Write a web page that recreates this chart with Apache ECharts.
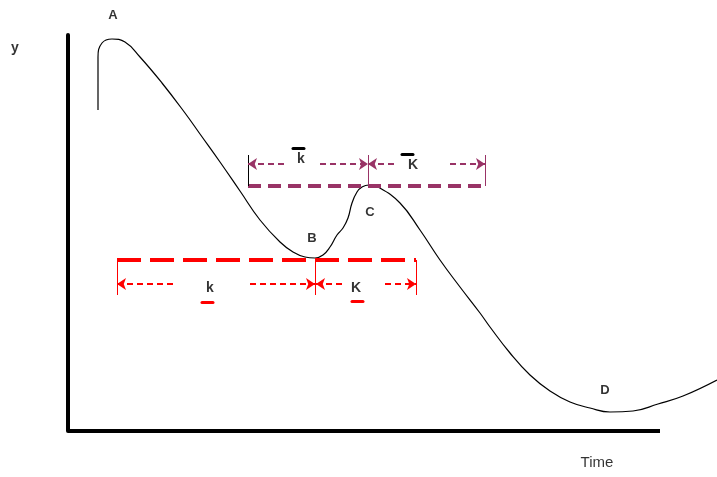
<!DOCTYPE html>
<html>
<head>
<meta charset="utf-8">
<script src="https://cdn.jsdelivr.net/npm/echarts@6/dist/echarts.min.js"></script>
<style>
  html, body { margin: 0; padding: 0; background: #fff; }
  #chart { width: 717px; height: 477px; }
</style>
</head>
<body>
<div id="chart"></div>
<script>
// curve y(Time) (axis units: 0..592 along the drawn Time axis, 0..396 up)
const curveX = [30, 30, 30, 34, 44, 57, 72, 94, 117, 132, 152, 172, 192, 212, 225, 237, 247, 255, 262, 269,
  275, 280, 284, 289, 294, 301, 310, 332, 352, 372, 392, 412, 422, 442, 462, 482, 502, 522, 542,
  565, 590, 615, 649];
const curveY = [321, 351, 374, 388, 392, 389, 374, 348, 318, 297, 269, 240, 211, 189, 179, 174, 173, 176, 184, 196,
  203, 213, 228, 239, 244, 246, 244, 228, 201, 171, 144, 118, 104, 78, 56, 40, 29, 23, 19,
  20, 27, 35, 51];

// length of the drawn Time axis; the curve runs on past it
const timeAxisEnd = 592;

// level lines through B (red) and C (purple)
const redLevel = {y: 171, from: 49, to: 348};
const purpleLevel = {y: 245, from: 180, to: 417};

// vertical ticks: [x, yBottom, yTop]
const redTicks = [[49, 136, 171], [247, 136, 171], [348, 136, 171]];
const purpleTicks = [[180, 245, 276], [300, 245, 276], [417, 245, 276]];

// arrow segments: [xFrom, xTo, y, arrowEnd]  (arrowEnd: 'start' | 'end')
const redArrows = [[49, 107, 147, 'start'], [182, 247, 147, 'end'], [248, 274, 147, 'start'], [317, 348, 147, 'end']];
const purpleArrows = [[180, 217, 267, 'start'], [252, 300, 267, 'end'], [300, 330, 267, 'start'], [382, 417, 267, 'end']];

// bars over / under k, K: [x1, x2, y]
const blackBars = [[225, 236, 283], [334, 345, 277]];
const redBars = [[134, 145, 129], [284, 295, 130]];

// point labels: [text, x, y]
const pointLabels = [['A', 45, 416], ['B', 244, 193], ['C', 302, 219], ['D', 537, 41]];
const purpleLabels = [['k', 233, 272], ['K', 345, 266]];
const redLabels = [['k', 142, 143], ['K', 288, 143]];
const axisTitles = [['y', -53, 383, 'bold', 14], ['Time', 529, -32, 'normal', 15]];

const RED = '#ff0000';
const PLUM = '#993366';
const font = "'Liberation Sans', Arial, sans-serif";

function seg(x1, y1, x2, y2, s1, s2) {
  return [{coord: [x1, y1], symbol: s1 || 'none'}, {coord: [x2, y2], symbol: s2 || 'none'}];
}

function markerSeries(name, lines, lineStyle) {
  return {
    name,
    type: 'line',
    data: [],
    silent: true,
    clip: false,
    markLine: {
      silent: true,
      animation: false,
      symbolSize: 9,
      label: {show: false},
      emphasis: {disabled: true},
      lineStyle,
      data: lines,
    },
  };
}

function textSeries(name, items, color, weight, size) {
  return {
    name,
    type: 'scatter',
    symbolSize: 0,
    silent: true,
    clip: false,
    data: items.map(d => ({value: [d[1], d[2]], name: d[0]})),
    label: {
      show: true,
      position: [0, 0],
      align: 'center',
      verticalAlign: 'middle',
      formatter: p => p.name,
      color,
      fontFamily: font,
      fontWeight: weight,
      fontSize: size,
    },
  };
}

const chart = echarts.init(document.getElementById('chart'));

const series = [
  markerSeries('timeAxis', [seg(0, 0, timeAxisEnd, 0)],
      {color: '#000', width: 4, type: 'solid', opacity: 1}),
  {
    name: 'curve',
    type: 'line',
    data: curveX.map((x, i) => [x, curveY[i]]),
    smooth: 0.45,
    showSymbol: false,
    clip: false,
    silent: true,
    lineStyle: {color: '#000', width: 1.2},
  },
  markerSeries('redLevel', [seg(redLevel.from, redLevel.y, redLevel.to, redLevel.y)],
      {color: RED, width: 4, type: [24, 9], opacity: 1}),
  markerSeries('purpleLevel', [seg(purpleLevel.from, purpleLevel.y, purpleLevel.to, purpleLevel.y)],
      {color: PLUM, width: 4, type: [13, 7], opacity: 1}),
  markerSeries('redTicks', redTicks.map(t => seg(t[0], t[1], t[0], t[2])),
      {color: RED, width: 1, type: 'solid', opacity: 1}),
  markerSeries('purpleTicks', purpleTicks.map((t, i) => {
    const s = seg(t[0], t[1], t[0], t[2]);
    if (i === 0) s[0].lineStyle = {color: '#000'};
    return s;
  }), {color: PLUM, width: 1, type: 'solid', opacity: 1}),
  markerSeries('redArrows', redArrows.map(a => seg(a[0], a[2], a[1], a[2],
      a[3] === 'start' ? 'arrow' : 'none', a[3] === 'end' ? 'arrow' : 'none')),
      {color: RED, width: 2, type: [6, 4], opacity: 1}),
  markerSeries('purpleArrows', purpleArrows.map(a => seg(a[0], a[2], a[1], a[2],
      a[3] === 'start' ? 'arrow' : 'none', a[3] === 'end' ? 'arrow' : 'none')),
      {color: PLUM, width: 2, type: [6, 4], opacity: 1}),
  markerSeries('blackBars', blackBars.map(b => seg(b[0], b[2], b[1], b[2])),
      {color: '#000', width: 3, type: 'solid', opacity: 1, cap: 'round'}),
  markerSeries('redBars', redBars.map(b => seg(b[0], b[2], b[1], b[2])),
      {color: RED, width: 3, type: 'solid', opacity: 1, cap: 'round'}),
  textSeries('points', pointLabels, '#000', 'bold', 13),
  textSeries('purpleLabels', purpleLabels, '#000', 'bold', 14),
  textSeries('redLabels', redLabels, '#000', 'bold', 14),
  ...axisTitles.map(t => textSeries('title-' + t[0], [t], '#000', t[3], t[4])),
];

chart.setOption({
  animation: false,
  backgroundColor: '#fff',
  // grid spans to the right edge so the curve can run past the Time axis
  grid: {left: 68, right: 0, top: 35, bottom: 46},
  tooltip: {show: false},
  xAxis: {
    type: 'value',
    min: 0,
    max: 649,
    axisLine: {show: false},
    axisTick: {show: false},
    axisLabel: {show: false},
    splitLine: {show: false},
  },
  yAxis: {
    type: 'value',
    min: 0,
    max: 396,
    axisLine: {show: true, lineStyle: {color: '#000', width: 4}},
    axisTick: {show: false},
    axisLabel: {show: false},
    splitLine: {show: false},
  },
  series,
});
</script>
</body>
</html>
